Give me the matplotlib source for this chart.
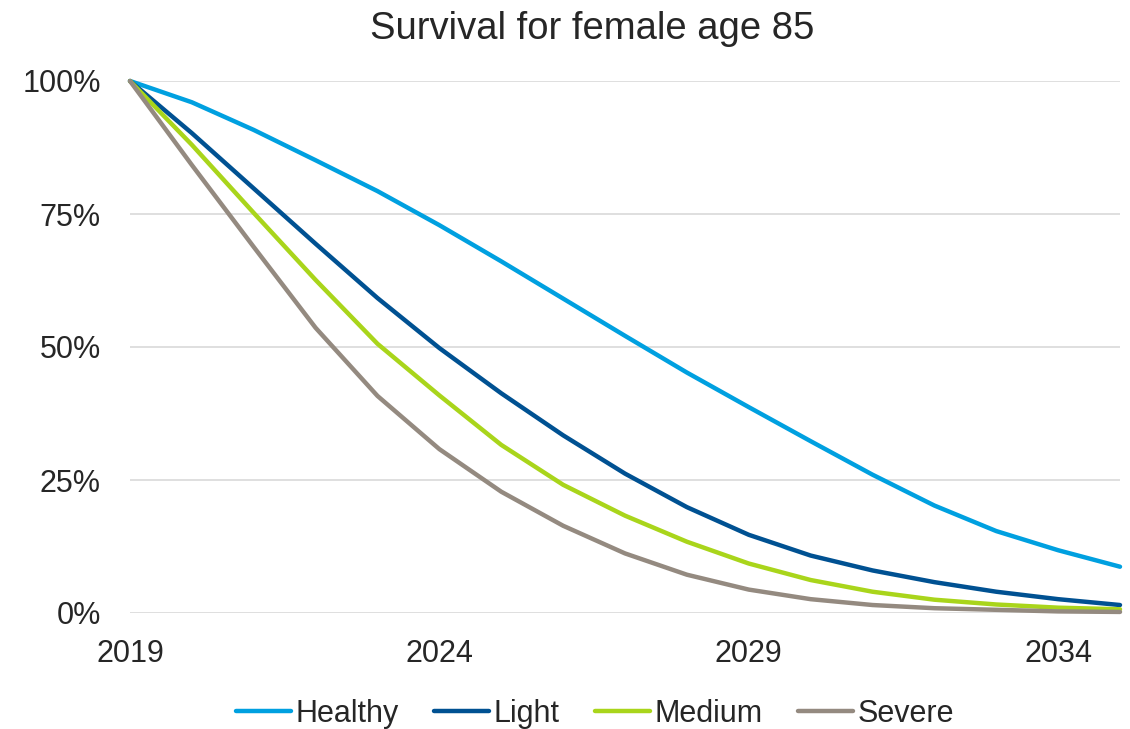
import matplotlib
matplotlib.use("Agg")
import matplotlib.pyplot as plt
from matplotlib.ticker import FuncFormatter

years = list(range(2019, 2036))
healthy = [100, 96.0, 90.8, 85.1, 79.3, 72.9, 66.1, 59.1, 52.1, 45.2, 38.7, 32.3, 26.0, 20.2, 15.4, 11.8, 8.7]
light = [100, 90.2, 79.8, 69.4, 59.2, 49.8, 41.3, 33.4, 26.2, 19.9, 14.7, 10.8, 8.0, 5.8, 4.0, 2.6, 1.5]
medium = [100, 88.0, 75.2, 62.6, 50.6, 40.9, 31.6, 24.1, 18.3, 13.4, 9.3, 6.2, 4.0, 2.5, 1.6, 1.0, 0.7]
severe = [100, 84.2, 68.8, 53.6, 40.8, 30.8, 22.8, 16.4, 11.2, 7.2, 4.4, 2.6, 1.5, 0.9, 0.6, 0.3, 0.2]

names = ["Healthy", "Light", "Medium", "Severe"]
colors = ["#00A0E0", "#005192", "#A9D51B", "#948A80"]
x_ticks = [2019, 2024, 2029, 2034]
y_ticks = [0, 25, 50, 75, 100]

plt.rcParams["font.family"] = ["Liberation Sans", "DejaVu Sans"]
txt = "#262626"

fig = plt.figure(figsize=(11.3, 7.29), dpi=100)
ax = fig.add_axes([130/1130, 1-613/729, 990/1130, 532/729])

for vals, name, c in zip([healthy, light, medium, severe], names, colors):
    ax.plot(years, vals, color=c, lw=3.2, label=name,
            solid_capstyle="round", solid_joinstyle="round", clip_on=False)

ax.set_xlim(2019, 2035)
ax.set_ylim(0, 100)
ax.set_xticks(x_ticks)
ax.set_yticks(y_ticks)
ax.yaxis.set_major_formatter(FuncFormatter(lambda v, p: "{0:.0f}%".format(v)))
ax.tick_params(axis="both", length=0, labelsize=22, labelcolor=txt)
ax.tick_params(axis="y", pad=21)
ax.tick_params(axis="x", pad=19)
ax.grid(axis="y", color="#D9D9D9", lw=1.2)
ax.set_axisbelow(True)
for s in ax.spines.values():
    s.set_visible(False)

fig.text(592/1130, 1-29/729, "Survival for female age 85", ha="center", va="center",
         fontsize=27.5, color=txt)

fig.legend(loc="center", bbox_to_anchor=(595/1130, 1-714/729), ncol=4, frameon=False,
           fontsize=22, handlelength=1.8, handletextpad=0.15, columnspacing=1.15,
           labelcolor=txt)

fig.savefig("out.png", dpi=100)
